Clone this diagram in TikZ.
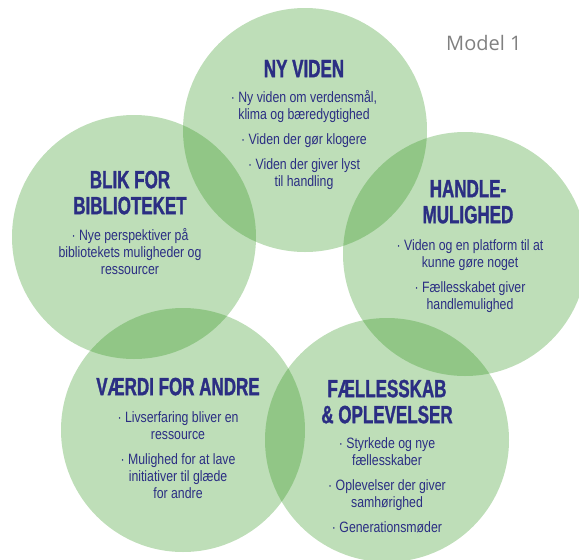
\documentclass[tikz,border=0pt]{standalone}
\usepackage{fontspec}
\usepackage{tikz}
\newfontfamily\headfont[FakeStretch=0.68, FakeBold=1.2]{Liberation Sans}
\newfontfamily\bodyfont[FakeStretch=0.82]{Liberation Sans}
\newfontfamily\notefont{Open Sans}
\definecolor{leaf}{RGB}{40,145,20}
\definecolor{ink}{RGB}{43,46,131}
\newcommand{\hstrut}{\rule{0pt}{18pt}}
\newcommand{\bstrut}{\rule{0pt}{12pt}}

\begin{document}
\begin{tikzpicture}[x=1pt, y=-1pt,
    bubble/.style={circle, draw=none, fill=leaf, fill opacity=0.3, minimum size=244pt, inner sep=0},
    heading/.style={anchor=north, inner sep=0, align=center, text=ink, font=\headfont\bfseries\fontsize{25}{26}\selectfont},
    points/.style={anchor=north, inner sep=0, align=center, text=ink, font=\bodyfont\fontsize{15}{17}\selectfont}]
\useasboundingbox (0,0) rectangle (579,560);
\foreach \name/\cx/\cy in {viden/305/130, handle/465/254, faelles/387/440, vaerdi/183/430, blik/134/237}
    \node[bubble] (\name) at (\cx,\cy) {};
% model label
\node[anchor=base west, inner sep=0, text=black!50, font=\notefont\fontsize{20}{22}\selectfont] (model) at (446,50) {Model 1};
% ny viden
\node[heading] (videnhead) at (304,59) {\hstrut NY VIDEN};
\node[points] (videntext) at (304,90) {\bstrut· Ny viden om verdensmål,\\klima og bæredygtighed\\[8pt]
    · Viden der gør klogere\\[8pt]· Viden der giver lyst\\til handling};
% blik for biblioteket
\node[heading] (blikhead) at (130,170) {\hstrut BLIK FOR\\BIBLIOTEKET};
\node[points] (bliktext) at (130,228) {\bstrut· Nye perspektiver på\\bibliotekets muligheder og\\ressourcer};
% handlemulighed
\node[heading] (handlehead) at (468,179) {\hstrut HANDLE-\\MULIGHED};
\node[points] (handletext) at (470,238) {\bstrut· Viden og en platform til at\\kunne gøre noget\\[8pt]
    · Fællesskabet giver\\handlemulighed};
% vaerdi for andre
\node[heading] (vaerdihead) at (178,377) {\hstrut VÆRDI FOR ANDRE};
\node[points] (vaerditext) at (178,410) {\bstrut· Livserfaring bliver en\\ressource\\[8pt]
    · Mulighed for at lave\\initiativer til glæde\\for andre};
% faellesskab og oplevelser
\node[heading] (faelleshead) at (387,379) {\hstrut FÆLLESSKAB\\\& OPLEVELSER};
\node[points] (faellestext) at (387,436) {\bstrut· Styrkede og nye\\fællesskaber\\[8pt]
    · Oplevelser der giver\\samhørighed\\[8pt]· Generationsmøder};
\end{tikzpicture}
\end{document}
